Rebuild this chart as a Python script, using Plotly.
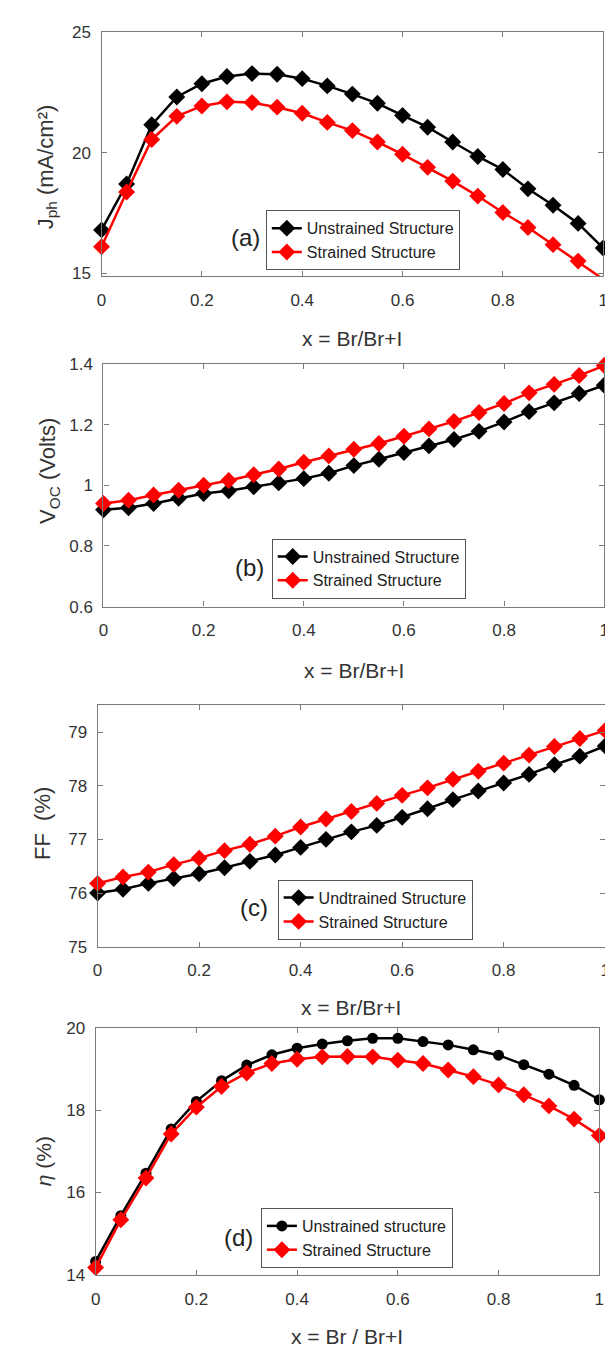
import plotly.graph_objects as go

x_vals = [0, 0.05, 0.1, 0.15, 0.2, 0.25, 0.3, 0.35, 0.4, 0.45, 0.5,
          0.55, 0.6, 0.65, 0.7, 0.75, 0.8, 0.85, 0.9, 0.95, 1.0]

jph_unstrained = [16.8, 18.7, 21.15, 22.3, 22.85, 23.15, 23.27, 23.24, 23.06, 22.76, 22.42,
                  22.04, 21.54, 21.05, 20.44, 19.84, 19.3, 18.5, 17.82, 17.07, 16.05]
jph_strained = [16.1, 18.37, 20.54, 21.5, 21.93, 22.1, 22.07, 21.88, 21.63, 21.25, 20.91,
                20.44, 19.93, 19.39, 18.82, 18.2, 17.52, 16.9, 16.19, 15.51, 14.76]

voc_unstrained = [0.919, 0.926, 0.94, 0.957, 0.973, 0.982, 0.995, 1.008, 1.022, 1.04, 1.065,
                  1.086, 1.108, 1.13, 1.151, 1.178, 1.209, 1.243, 1.272, 1.303, 1.33]
voc_strained = [0.94, 0.951, 0.968, 0.984, 1.0, 1.016, 1.035, 1.054, 1.076, 1.097, 1.119,
                1.138, 1.162, 1.186, 1.211, 1.24, 1.27, 1.305, 1.333, 1.362, 1.395]

ff_unstrained = [76.0, 76.07, 76.18, 76.27, 76.36, 76.47, 76.59, 76.71, 76.85, 77.0, 77.14,
                 77.26, 77.41, 77.57, 77.74, 77.9, 78.05, 78.21, 78.39, 78.55, 78.74]
ff_strained = [76.18, 76.3, 76.39, 76.53, 76.65, 76.79, 76.91, 77.06, 77.23, 77.38, 77.52,
               77.67, 77.82, 77.96, 78.12, 78.27, 78.42, 78.57, 78.73, 78.88, 79.03]

eta_unstrained = [14.33, 15.44, 16.47, 17.54, 18.21, 18.71, 19.09, 19.34, 19.5, 19.6, 19.68,
                  19.74, 19.74, 19.66, 19.58, 19.46, 19.33, 19.1, 18.87, 18.6, 18.25]
eta_strained = [14.18, 15.34, 16.35, 17.42, 18.07, 18.57, 18.9, 19.13, 19.23, 19.29, 19.3,
                19.29, 19.21, 19.13, 18.97, 18.81, 18.61, 18.37, 18.1, 17.78, 17.38]

x_title_abc = "x = Br/Br+I"
x_title_d = "x = Br / Br+I"
y_titles = ["J<sub>ph</sub> (mA/cm²)", "V<sub>OC</sub> (Volts)", "FF  (%)", "<i>η</i> (%)"]
panel_tags = ["(a)", "(b)", "(c)", "(d)"]
legend_names = [
    ("Unstrained Structure", "Strained Structure"),
    ("Unstrained Structure", "Strained Structure"),
    ("Undtrained Structure", "Strained Structure"),
    ("Unstrained structure", "Strained Structure"),
]

W, H = 613, 1349
FONT = "Liberation Sans, Arial, sans-serif"
TXT = "#333333"
AX = "#7a7a7a"

# pixel geometry of panels: (left, right, top, bottom)
boxes = [(90, 600, 15, 263), (92, 601, 352, 598), (86, 602, 698, 943), (84, 596, 1025, 1276)]
yranges = [[14.88, 25], [0.6, 1.4], [75, 79.5], [14, 20]]
ydticks = [5, 0.2, 1, 2]
series = [(jph_unstrained, jph_strained), (voc_unstrained, voc_strained),
          (ff_unstrained, ff_strained), (eta_unstrained, eta_strained)]
legend_pos = [(257, 196), (263, 529), (269, 875), (252, 1208)]
tag_pos = [(236, 224), (240, 558), (245, 903), (229, 1238)]
ytitle_pos = [(34, 152), (36, 460), (30, 818), (31, 1160)]
xtitle_y = [326, 663, 1005, 1338]

def px_x(v):
    return v / W

def px_y(v):
    return 1 - v / H

fig = go.Figure()
annotations = []
layout = {}
for i in range(4):
    sfx = "" if i == 0 else str(i + 1)
    xa, ya = "x" + sfx, "y" + sfx
    lg = "legend" if i == 0 else "legend" + str(i + 1)
    unstr, strn = series[i]
    n1, n2 = legend_names[i]
    sym1 = "circle" if i == 3 else "diamond"
    fig.add_trace(go.Scatter(
        x=x_vals, y=unstr, mode="lines+markers", name=n1,
        line=dict(color="black", width=2.5),
        marker=dict(symbol=sym1, size=11 if i == 3 else 13, color="black"),
        xaxis=xa, yaxis=ya, legend=lg, cliponaxis=False))
    fig.add_trace(go.Scatter(
        x=x_vals, y=strn, mode="lines+markers", name=n2,
        line=dict(color="#ff0000", width=2.5),
        marker=dict(symbol="diamond", size=13, color="#ff0000"),
        xaxis=xa, yaxis=ya, legend=lg, cliponaxis=False))

    l, r, t, b = boxes[i]
    common = dict(showline=True, linecolor=AX, linewidth=1.2, mirror="ticks",
                  ticks="inside", ticklen=5, tickcolor=AX, showgrid=False, zeroline=False,
                  tickfont=dict(family=FONT, size=17, color=TXT))
    layout["xaxis" + sfx] = dict(domain=[px_x(l), px_x(r)], range=[0, 1], dtick=0.2, tick0=0,
                                 anchor=ya, ticklabelstandoff=8, **common)
    layout["yaxis" + sfx] = dict(domain=[px_y(b), px_y(t)], range=yranges[i], dtick=ydticks[i],
                                 anchor=xa, ticklabelstandoff=6, **common)
    lx, ly = legend_pos[i]
    layout[lg] = dict(x=px_x(lx), y=px_y(ly), xanchor="left", yanchor="top",
                      bgcolor="white", bordercolor="#555555", borderwidth=1,
                      font=dict(family=FONT, size=16, color="#222222"),
                      tracegroupgap=0, itemwidth=30)
    tx, ty = tag_pos[i]
    annotations.append(dict(text=panel_tags[i], x=px_x(tx), y=px_y(ty), xref="paper", yref="paper",
                            xanchor="center", yanchor="middle", showarrow=False,
                            font=dict(family=FONT, size=24, color="#222222")))
    yx, yy = ytitle_pos[i]
    annotations.append(dict(text=y_titles[i], x=px_x(yx), y=px_y(yy), xref="paper", yref="paper",
                            xanchor="center", yanchor="middle", showarrow=False, textangle=-90,
                            font=dict(family=FONT, size=21 if i == 3 else 22, color=TXT)))
    annotations.append(dict(text=x_title_d if i == 3 else x_title_abc,
                            x=px_x((l + r) / 2), y=px_y(xtitle_y[i]), xref="paper", yref="paper",
                            xanchor="center", yanchor="middle", showarrow=False,
                            font=dict(family=FONT, size=21, color=TXT)))

fig.update_layout(width=W, height=H, margin=dict(l=0, r=0, t=0, b=0),
                  paper_bgcolor="white", plot_bgcolor="white", showlegend=True,
                  annotations=annotations, **layout)

fig.write_html("out.html")
